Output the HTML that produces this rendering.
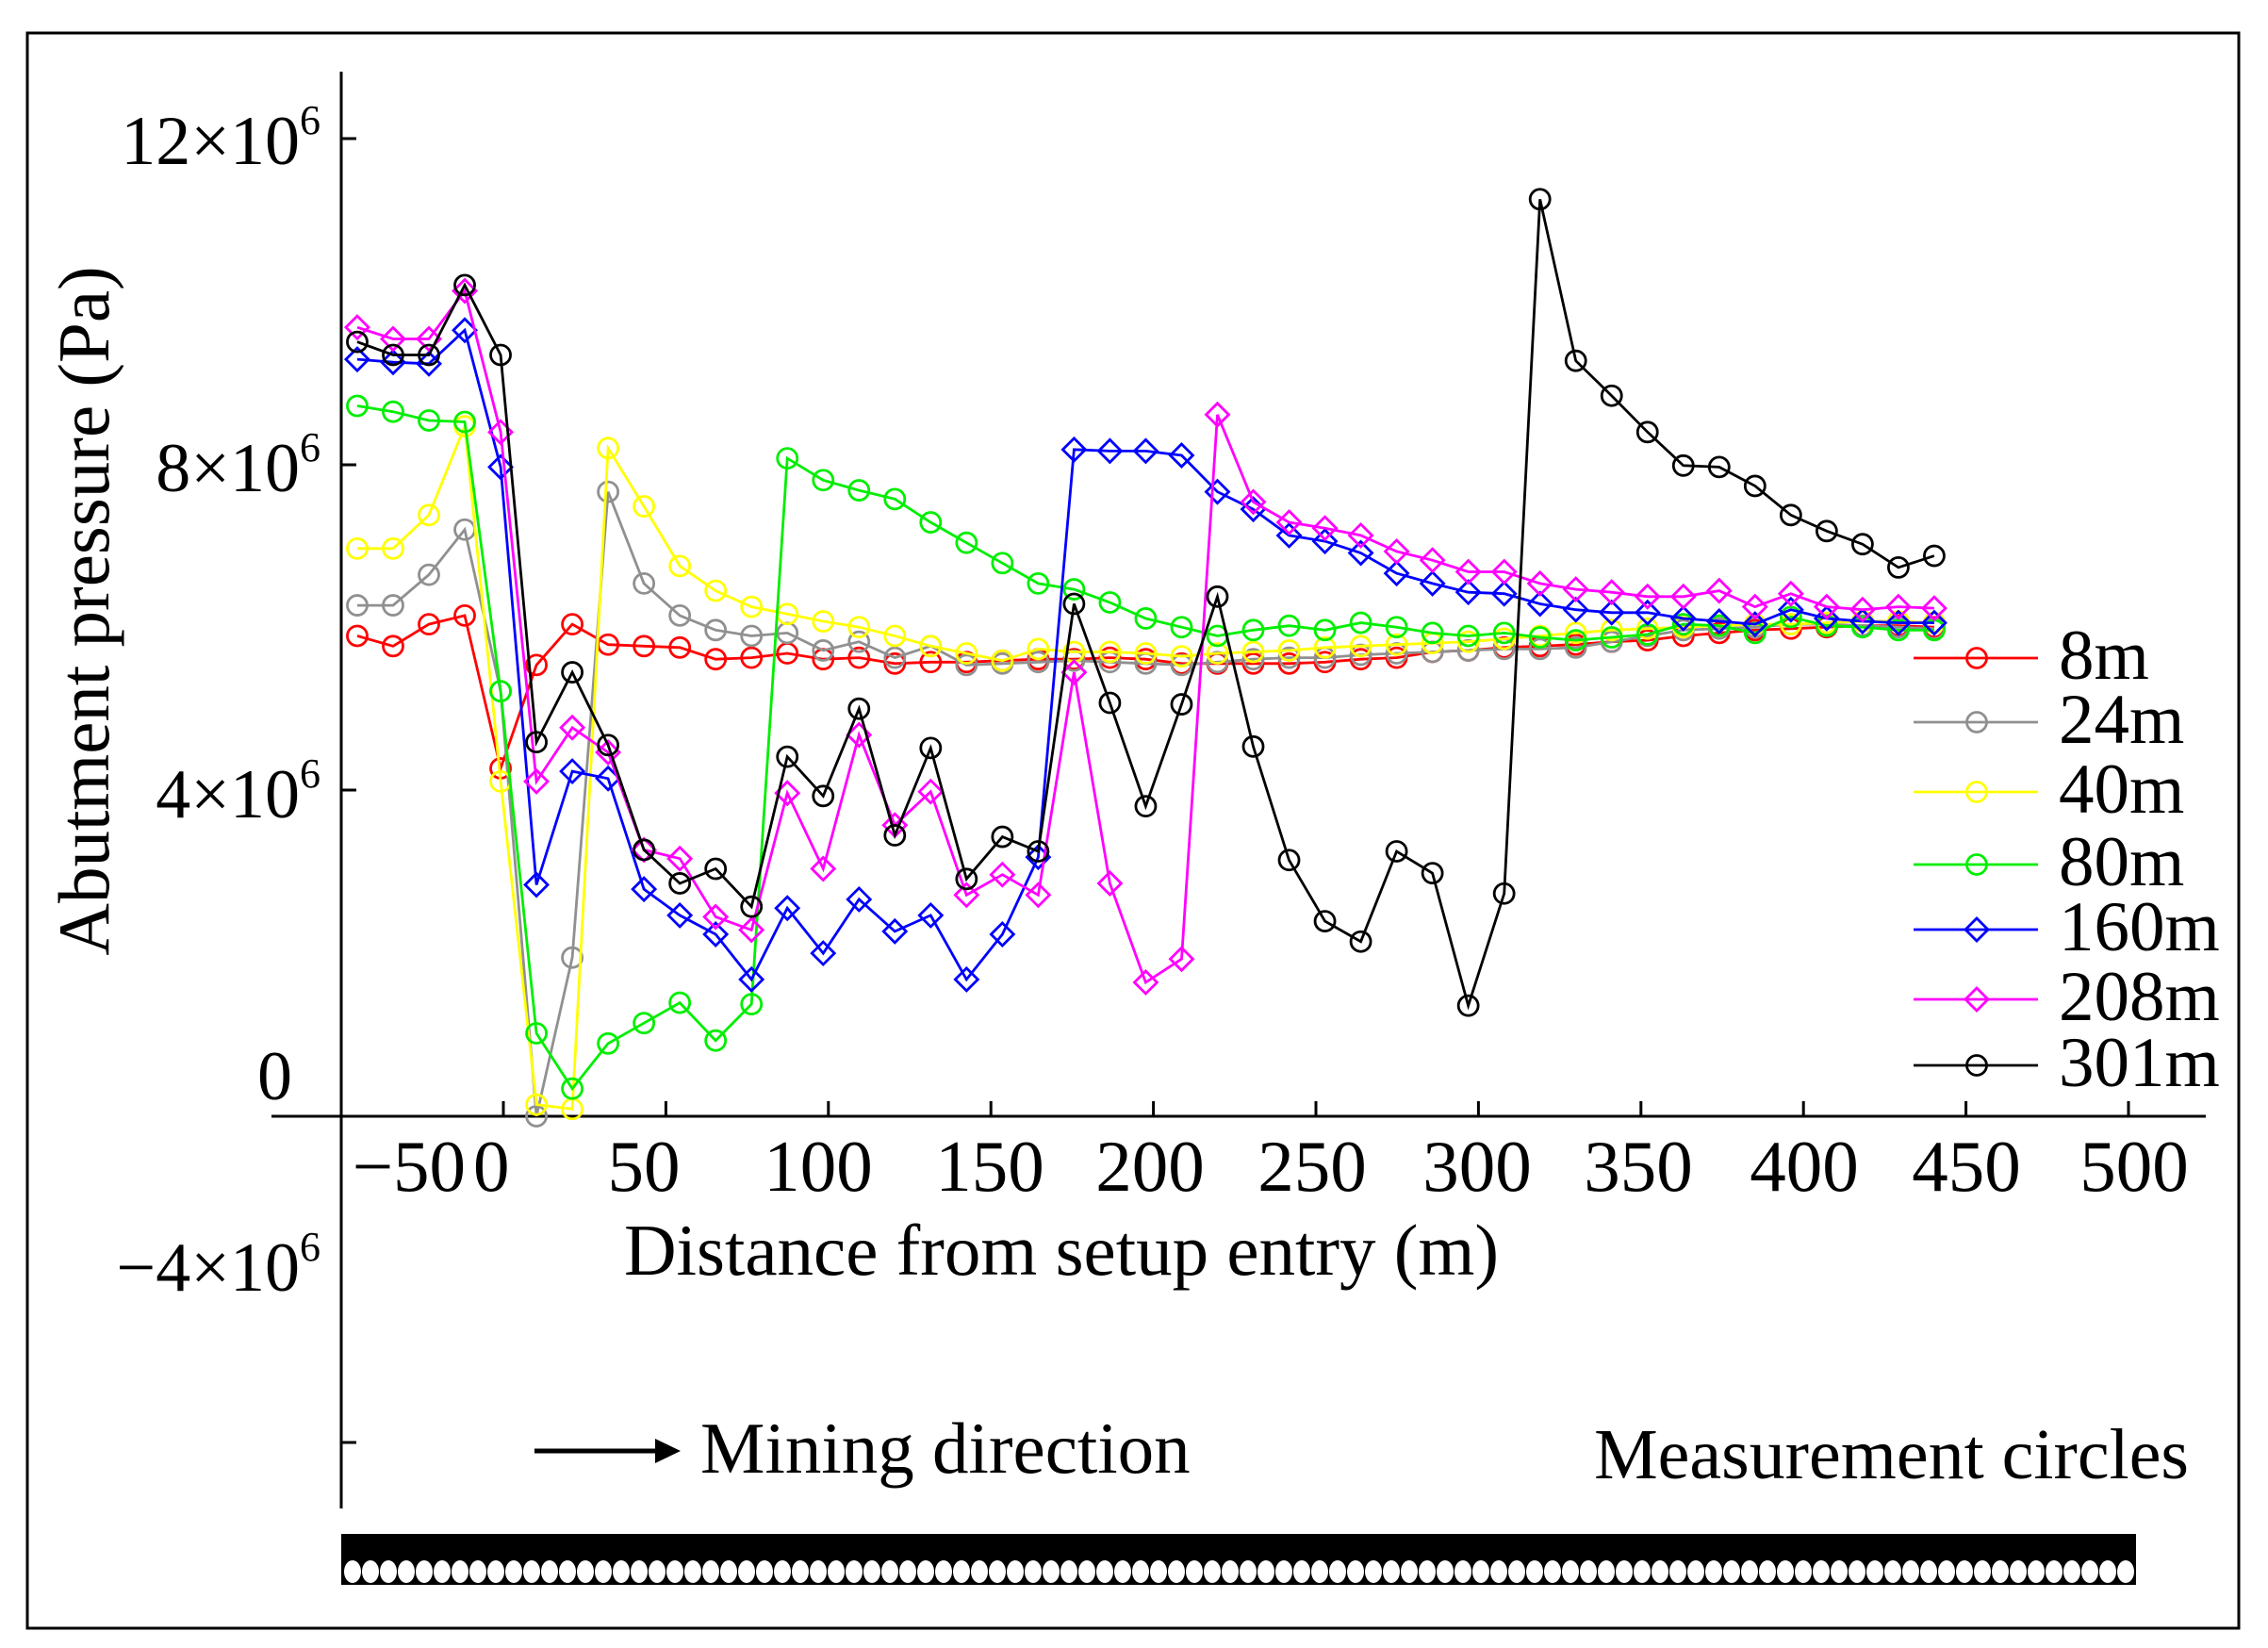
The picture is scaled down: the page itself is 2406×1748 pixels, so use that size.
<!DOCTYPE html>
<html><head><meta charset="utf-8"><style>
html,body{margin:0;padding:0;background:#fff;}
svg{display:block;font-family:"Liberation Serif",serif;}
</style></head><body>
<svg id="s" width="2406" height="1748" viewBox="0 0 2406 1748" xmlns="http://www.w3.org/2000/svg">
<rect x="0" y="0" width="2406" height="1748" fill="#fff"/>
<rect x="29" y="35" width="2346" height="1692" fill="none" stroke="#000" stroke-width="3"/>
<g stroke="#000" stroke-width="3" fill="none">
<line x1="362" y1="76" x2="362" y2="1600"/>
<line x1="288" y1="1184" x2="2340" y2="1184"/>
<line x1="362" y1="147" x2="378" y2="147"/>
<line x1="362" y1="493" x2="378" y2="493"/>
<line x1="362" y1="838" x2="378" y2="838"/>
<line x1="362" y1="1530" x2="378" y2="1530"/>
</g>
<g id="xt" stroke="#000" stroke-width="3"></g>
<g font-size="74" fill="#000">
<text x="340" y="174" text-anchor="end">12×10<tspan font-size="44" dy="-32">6</tspan></text>
<text x="340" y="521" text-anchor="end">8×10<tspan font-size="44" dy="-32">6</tspan></text>
<text x="340" y="867" text-anchor="end">4×10<tspan font-size="44" dy="-32">6</tspan></text>
<text x="310" y="1166" text-anchor="end">0</text>
<text x="340" y="1369" text-anchor="end">−4×10<tspan font-size="44" dy="-32">6</tspan></text>
<g text-anchor="middle" font-size="77">
<text x="494" y="1263" text-anchor="end">−50</text><text x="502" y="1263" text-anchor="start">0</text><text x="683" y="1263">50</text>
<text x="868" y="1263">100</text><text x="1050" y="1263">150</text><text x="1220" y="1263">200</text>
<text x="1392" y="1263">250</text><text x="1567" y="1263">300</text><text x="1738" y="1263">350</text>
<text x="1914" y="1263">400</text><text x="2086" y="1263">450</text><text x="2264" y="1263">500</text>
</g>
<text x="1126" y="1352" text-anchor="middle" font-size="77">Distance from setup entry (m)</text>
<text transform="translate(115,648) rotate(-90)" text-anchor="middle" font-size="77">Abutment pressure (Pa)</text>
<text x="743" y="1562" font-size="77">Mining direction</text>
<text x="2322" y="1568" text-anchor="end" font-size="76">Measurement circles</text>
</g>
<line x1="567" y1="1539" x2="700" y2="1539" stroke="#000" stroke-width="5"/>
<polygon points="695,1526 722,1539 695,1552" fill="#000"/>
<rect x="362" y="1627" width="1904" height="54" fill="#000"/>
<g id="bar" fill="#fff"></g>
<g id="series"></g>
<g id="legend" font-size="75"></g>
</svg>
<script>
var NS="http://www.w3.org/2000/svg";
function el(t,a,p){var e=document.createElementNS(NS,t);for(var k in a)e.setAttribute(k,a[k]);p.appendChild(e);return e;}
var xt=document.getElementById('xt');
for(var m=0;m<=500;m+=50){var x=534+m*3.448;el('line',{x1:x,y1:1184,x2:x,y2:1168},xt);}
var bar=document.getElementById('bar');
for(var cx=374;cx<2262;cx+=19){el('ellipse',{cx:cx,cy:1667,rx:9,ry:12},bar);}
var S=[
["#ff0000","c",[440,447,432,426,531,460,432,446,447,448,456,455,452,456,455,459,458,458,457,456,456,455,456,459,459,459,459,458,456,455,451,450,448,447,446,444,443,440,438,436,435,434,433,433,434],"8m"],
["#909090","c",[419,419,398,367,478,770,661,341,404,426,436,440,438,450,444,455,447,460,459,458,457,458,459,460,458,456,455,455,453,452,451,450,449,449,448,444,440,436,435,434,432,432,433,434,435],"24m"],
["#ffff00","c",[380,380,357,296,540,762,765,311,351,392,409,420,425,430,434,440,447,452,457,449,451,451,452,454,452,451,450,448,447,446,445,444,442,440,438,436,435,434,433,432,432,431,430,430,431],"40m"],
["#00ee00","c",[282,286,292,293,478,713,751,720,706,692,718,693,318,333,340,346,362,376,390,404,408,417,428,434,440,436,433,436,431,434,438,440,438,441,443,441,439,432,433,438,427,433,434,436,436],"80m"],
["#0000ff","d",[250,252,253,230,324,611,533,538,614,632,645,676,627,658,621,643,632,676,645,592,312,313,313,316,341,353,371,375,383,397,404,410,411,418,422,424,424,428,430,432,422,428,430,431,431],"160m"],
["#ff00ff","d",[228,236,236,203,300,540,503,520,587,593,633,642,548,600,508,570,547,618,604,618,465,610,678,662,288,348,362,366,371,382,388,396,396,404,408,410,413,413,409,420,411,420,422,420,421],"208m"],
["#000000","c",[238,247,247,199,247,513,465,515,587,610,600,626,523,550,490,577,517,607,578,588,418,486,557,487,413,516,594,636,650,588,603,694,617,140,251,275,300,323,324,337,357,368,377,393,385],"301m"]
];
var g=document.getElementById('series');
function marker(t,x,y,c,p){
 if(t=="d"){el('polygon',{points:(x)+","+(y-12)+" "+(x+12)+","+y+" "+x+","+(y+12)+" "+(x-12)+","+y,fill:"none",stroke:c,"stroke-width":2.8},p);}
 else el('circle',{cx:x,cy:y,r:10.5,fill:"none",stroke:c,"stroke-width":2.8},p);
}
S.forEach(function(s){
 var pts=s[2].map(function(yd,i){var xd=246+i*24.77;return [534+(xd-347)*1.535,1184+(yd-770)*1.544];});
 el('polyline',{points:pts.map(function(p){return p[0].toFixed(1)+","+p[1].toFixed(1)}).join(" "),fill:"none",stroke:s[0],"stroke-width":2.8},g);
 pts.forEach(function(p){marker(s[1],p[0],p[1],s[0],g);});
});
var L=document.getElementById('legend');
var by=[720,788,862,939,1008,1082,1152];
S.forEach(function(s,i){
 var y=by[i]-22;
 el('line',{x1:2030,y1:y,x2:2162,y2:y,stroke:s[0],"stroke-width":2.8},L);
 marker(s[1],2097,y,s[0],L);
 var t=el('text',{x:2184,y:by[i],fill:"#000"},L);t.textContent=s[3];
});
</script>
</body></html>
